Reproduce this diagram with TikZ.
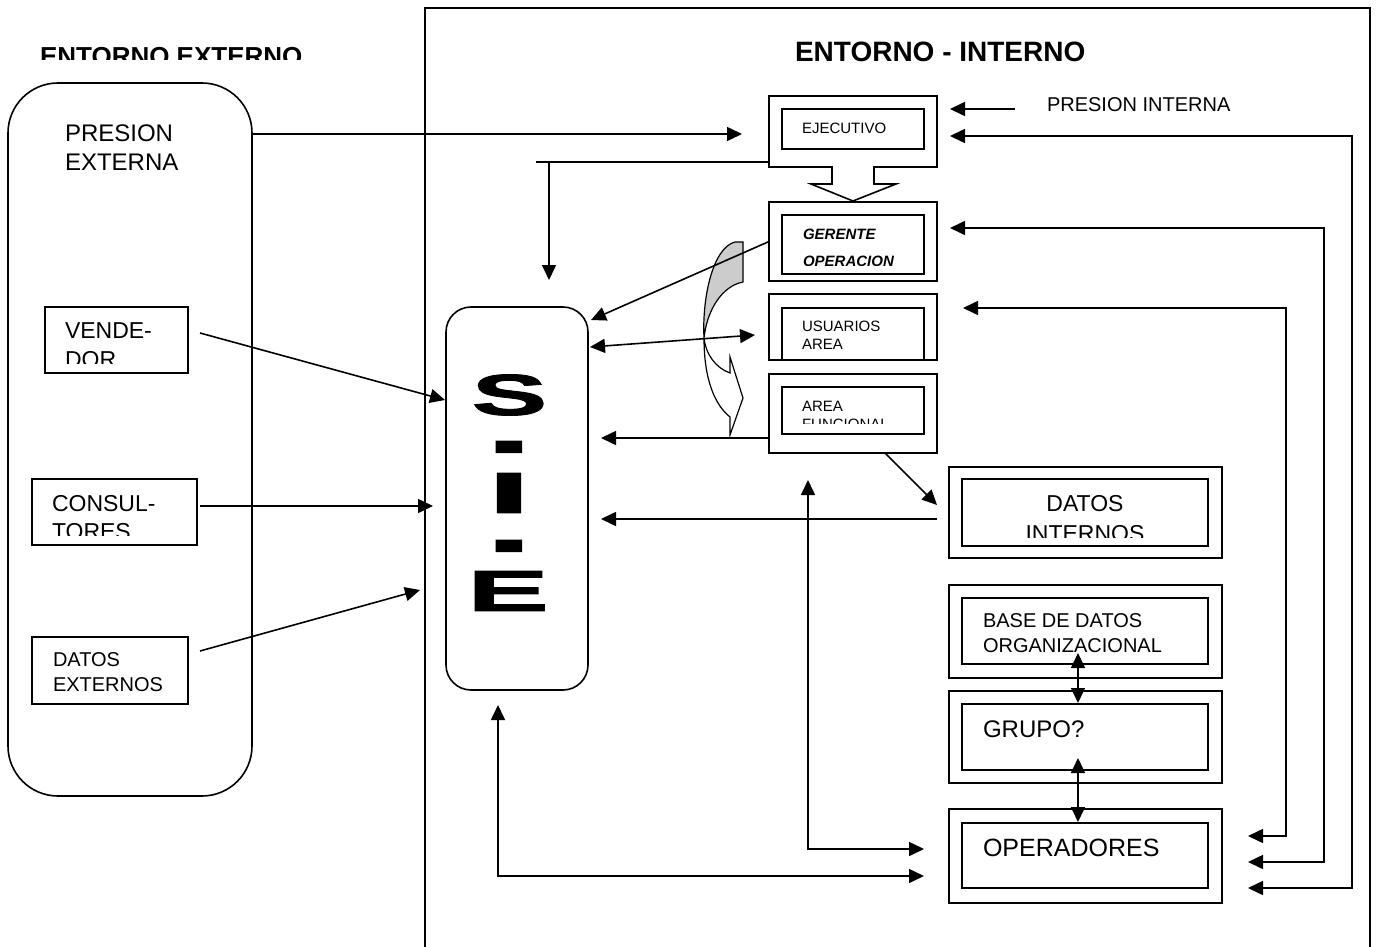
\documentclass[tikz,border=0pt]{standalone}
\usepackage{graphicx}
\usepackage{fontspec}
\setmainfont{Liberation Sans}
\newfontfamily\siefont[FakeBold=1.5]{Liberation Sans Bold}
\usetikzlibrary{arrows.meta,calc}
\begin{document}
\begin{tikzpicture}[x=1pt,y=-1pt,
  bx/.style={draw,line width=1.6pt,inner sep=0pt,outer sep=0pt,anchor=north west},
  hid/.style={inner sep=0pt,outer sep=0pt,anchor=north west},
  lbl/.style={inner sep=0pt,outer sep=0pt,anchor=north west,align=left},
  ln/.style={line width=1.6pt},
  arr/.style={line width=1.6pt,-{Triangle[length=15pt,width=14pt]}},
  arrb/.style={line width=1.6pt,{Triangle[length=15pt,width=14pt]}-{Triangle[length=15pt,width=14pt]}},
  sie/.style={inner sep=0pt,outer sep=0pt,font=\siefont\fontsize{58}{58}\selectfont}]
\useasboundingbox (0,0) rectangle (1377,947);

% --- frames and titles
\node[bx,minimum width=945pt,minimum height=980pt] (intf) at (425,8) {};
\begin{scope}
  \clip (0,0) rectangle (420,60);
  \node[hid,anchor=base west,font=\bfseries\fontsize{26}{30}\selectfont] (tExt) at (40,66) {ENTORNO EXTERNO};
\end{scope}
\node[hid,anchor=base west,font=\bfseries\fontsize{28}{32}\selectfont] (tInt) at (795,62) {ENTORNO - INTERNO};

% --- external side
\node[bx,minimum width=244pt,minimum height=713pt,rounded corners=50pt] (ext) at (8,83) {};
\node[lbl,font=\fontsize{24}{29}\selectfont] (tpe) at (65,125) {PRESION\\EXTERNA};

\node[bx,minimum width=143pt,minimum height=66pt] (ven) at (45,307) {};
\begin{scope}
  \clip (45,307) rectangle (188,363);
  \node[lbl,font=\fontsize{23}{29}\selectfont] (tven) at (65,323) {VENDE-\\DOR};
\end{scope}

\node[bx,minimum width=165pt,minimum height=66pt] (con) at (32,479) {};
\begin{scope}
  \clip (32,479) rectangle (197,535);
  \node[lbl,font=\fontsize{23}{28}\selectfont] (tcon) at (52,495) {CONSUL-\\TORES};
\end{scope}

\node[bx,minimum width=156pt,minimum height=67pt] (dex) at (32,637) {};
\node[lbl,font=\fontsize{20}{25}\selectfont] (tdex) at (53,653) {DATOS\\EXTERNOS};

% --- S.I.E.
\node[bx,minimum width=142pt,minimum height=383pt,rounded corners=25pt] (sie) at (446,307) {};
\node[sie] (sS) at (509.5,395) {\scalebox{1.95}[1]{S}};
\node[sie,anchor=base] (sD1) at (509,471) {\scalebox{1.7}[1.6]{-}};
\node[sie] (sI) at (509,493) {\scalebox{2.6}[1]{I}};
\node[sie,anchor=base] (sD2) at (509,570) {\scalebox{1.7}[1.6]{-}};
\node[sie] (sE) at (508,591) {\scalebox{2.1}[1]{E}};

% --- curved block arrow
\filldraw[fill=black!20,line width=1.2pt] (743,242) -- (743,282) .. controls (722,286) and (707,310) .. (704,338) .. controls (702,300) and (712,248) .. (735,242) -- cycle;
\filldraw[fill=white,line width=1.2pt] (704,338) .. controls (704,380) and (715,405) .. (730,417) -- (730,435) -- (743,398) -- (730,357) -- (730,373) .. controls (716,368) and (706,355) .. (704,338) -- cycle;

% --- internal boxes
\draw[ln,line join=miter] (769,96) -- (937,96) -- (937,167) -- (874,167) -- (874,184) -- (896,184) -- (853,201) -- (811,184) -- (832,184) -- (832,167) -- (769,167) -- cycle;
\node[hid,minimum width=168pt,minimum height=71pt] (ejo) at (769,96) {};
\node[bx,minimum width=142pt,minimum height=40pt] (eji) at (782,109) {};
\node[hid,anchor=west,font=\fontsize{15}{18}\selectfont] (tej) at (802,128) {EJECUTIVO};

\node[bx,minimum width=168pt,minimum height=79pt] (gero) at (769,202) {};
\node[bx,minimum width=142pt,minimum height=59pt] (geri) at (782,215) {};
\begin{scope}
  \clip (782,215) rectangle (924,265);
  \node[lbl,font=\bfseries\itshape\fontsize{15}{27}\selectfont] (tger) at (803,229.5) {GERENTE\\OPERACION};
\end{scope}

\node[bx,minimum width=168pt,minimum height=66pt] (uso) at (769,294) {};
\draw[ln] (782,360) -- (782,308) -- (924,308) -- (924,360);
\node[lbl,font=\fontsize{15}{18}\selectfont] (tusu) at (802,321) {USUARIOS\\AREA};

\node[bx,minimum width=168pt,minimum height=79pt] (afo) at (769,374) {};
\node[bx,minimum width=142pt,minimum height=47pt] (afi) at (782,387) {};
\begin{scope}
  \clip (782,387) rectangle (924,423);
  \node[lbl,font=\fontsize{15}{18}\selectfont] (taf) at (802,401) {AREA\\FUNCIONAL};
\end{scope}

\node[bx,minimum width=273pt,minimum height=91pt] (dio) at (949,467) {};
\node[bx,minimum width=246pt,minimum height=67pt] (dii) at (962,479) {};
\begin{scope}
  \clip (962,479) rectangle (1208,537);
  \node[hid,anchor=north,align=center,font=\fontsize{23}{30}\selectfont] (tdi) at (1085,495) {DATOS\\INTERNOS};
\end{scope}

\node[bx,minimum width=273pt,minimum height=93pt] (bdo) at (949,585) {};
\node[bx,minimum width=246pt,minimum height=66pt] (bdi) at (962,598) {};
\node[lbl,font=\fontsize{20}{25}\selectfont] (tbd) at (983,614) {BASE DE DATOS\\ORGANIZACIONAL};

\node[bx,minimum width=273pt,minimum height=92pt] (gro) at (949,691) {};
\node[bx,minimum width=246pt,minimum height=66pt] (gri) at (962,704) {};
\node[lbl,font=\fontsize{24}{29}\selectfont] (tgr) at (983,721) {GRUPO?};

\node[bx,minimum width=273pt,minimum height=94pt] (opo) at (949,809) {};
\node[bx,minimum width=246pt,minimum height=65pt] (opi) at (962,823) {};
\node[lbl,font=\fontsize{25}{30}\selectfont] (top) at (983,839) {OPERADORES};

\node[lbl,font=\fontsize{20}{24}\selectfont] (tpi) at (1047,98) {PRESION INTERNA};

% --- connectors
\coordinate (pe) at (742,134);
\draw[arr] (pe -| ext.east) -- (pe);

\coordinate (ejL) at (536,162);
\draw[ln] (ejL -| ejo.west) -- (ejL);
\coordinate (sT0) at (549,162);
\coordinate (sT) at (549,280);
\draw[arr] (sT0) -- (sT);

\coordinate (gS) at (591,320);
\draw[arr] (gero.west) -- (gS);

\coordinate (d1) at (590,347);
\coordinate (d2) at (755,335);
\draw[arrb] (d1) -- (d2);

\coordinate (eS) at (601,438);
\draw[arr] (eS -| afo.west) -- (eS);

\coordinate (fD) at (937,505);
\draw[arr] ([xshift=32pt]afo.south) -- (fD);

\coordinate (gD) at (937,519);
\coordinate (gS2) at (601,519);
\draw[arr] (gD) -- (gS2);

\coordinate (h0) at (200,333);
\coordinate (h1) at (445,400);
\draw[arr] (h0) -- (h1);
\coordinate (i0) at (200,506);
\coordinate (i1) at (433,506);
\draw[arr] (i0) -- (i1);
\coordinate (j0) at (200,651);
\coordinate (j1) at (420,590);
\draw[arr] (j0) -- (j1);

\coordinate (k0) at (498,705);
\coordinate (k1) at (924,876);
\draw[arrb] (k0) |- (k1);
\coordinate (l0) at (808,480);
\coordinate (l1) at (924,849);
\draw[arrb] (l0) |- (l1);

\coordinate (m0) at (1015,109);
\coordinate (m1) at (950,109);
\draw[arr] (m0) -- (m1);

\coordinate (xr1) at (1352,0);
\coordinate (xr2) at (1324,0);
\coordinate (xr3) at (1286,0);
\coordinate (n1) at (950,136);
\coordinate (n2) at (1248,888);
\draw[arrb] (n1) -- (n1 -| xr1) |- (n2);
\coordinate (o1) at (950,228);
\coordinate (o2) at (1248,862);
\draw[arrb] (o1) -- (o1 -| xr2) |- (o2);
\coordinate (p1) at (963,308);
\coordinate (p2) at (1248,836);
\draw[arrb] (p1) -- (p1 -| xr3) |- (p2);

\coordinate (q0) at (1078,653);
\coordinate (q1) at (1078,703);
\draw[arrb] (q0) -- (q1);
\coordinate (q2) at (1078,758);
\coordinate (q3) at (1078,822);
\draw[arrb] (q2) -- (q3);
\end{tikzpicture}
\end{document}
